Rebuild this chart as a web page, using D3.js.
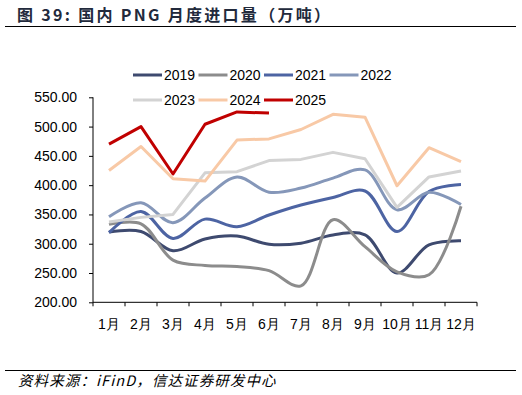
<!DOCTYPE html>
<html><head><meta charset="utf-8">
<script src="https://cdn.jsdelivr.net/npm/d3@7"></script>
<style>body{margin:0;background:#fff;}svg{display:block;}</style>
</head><body>
<svg id="c" width="522" height="395"></svg>
<script>
const months = ["1月","2月","3月","4月","5月","6月","7月","8月","9月","10月","11月","12月"];
const years = ["2019","2020","2021","2022","2023","2024","2025"];
const v2019 = [320,321,288,308,313,299,301,315,315,250,298,305];
const v2020 = [333,334,272,263,261,254,228,341,295,252,247,364];
const v2021 = [319,355,309,342,329,349,366,379,390,321,389,401];
const v2022 = [346,370,336,378,414,388,395,412,426,358,388,367];
const v2023 = [337,345,350,421,423,442,444,456,445,362,414,424];
const v2024 = [425,466,411,407,477,479,495,521,516,399,464,440];
const v2025 = [470,500,419,504,525,523];
const yTicks = [200,250,300,350,400,450,500,550];

const seriesData = [v2019,v2020,v2021,v2022,v2023,v2024,v2025];
const colors = ["#3e4a6f","#8c8c8c","#4d64a3","#8597b9","#d3d3d3","#f8c9a6","#c00000"];
const smooth = [true,true,true,true,false,false,false];

const svg = d3.select("#c");
const font = "'Liberation Sans', Arial, sans-serif";

// Title
svg.append("text").attr("x",17).attr("y",21)
  .attr("font-family","'Noto Sans CJK SC', sans-serif").attr("font-weight","bold")
  .attr("font-size",16).attr("fill","#222a3c").attr("letter-spacing",2.3)
  .text("图 39:  国内 PNG 月度进口量（万吨）");
svg.append("line").attr("x1",5).attr("x2",516).attr("y1",26.5).attr("y2",26.5)
  .attr("stroke","#000").attr("stroke-width",1.2);

// Scales
const x = d3.scaleBand().domain(months).range([93,477]);
const y = d3.scaleLinear().domain([200,550]).range([302.3,97.3]);

// Y axis
const yAxis = d3.axisLeft(y).tickValues(yTicks).tickFormat(d3.format(".2f")).tickSize(4).tickPadding(12);
const gy = svg.append("g").attr("transform","translate(93,0)").call(yAxis);
gy.selectAll("text").attr("font-family",font).attr("font-size",14).attr("fill","#000");
gy.selectAll("line,path").attr("stroke","#000");
gy.select(".domain").attr("d","M0,"+y(200)+"V"+y(550));

// X axis
const xAxis = d3.axisBottom(x).tickSize(0).tickPadding(17);
const gx = svg.append("g").attr("transform","translate(0,"+y(200)+")").call(xAxis);
gx.selectAll("text").attr("font-family",font).attr("font-size",14).attr("fill","#000");
gx.select(".domain").attr("stroke","#000").attr("d","M"+x.range()[0]+",0H"+x.range()[1]);
const bounds = months.map(m=>x(m)).concat([x.range()[1]]);
gx.selectAll(".btick").data(bounds).enter().append("line")
  .attr("x1",d=>d).attr("x2",d=>d).attr("y1",0).attr("y2",4).attr("stroke","#000");

// Lines
const cx = i => x(months[i]) + x.bandwidth()/2;
seriesData.forEach((vals,k)=>{
  const line = d3.line().x((d,i)=>cx(i)).y(d=>y(d))
    .curve(smooth[k] ? d3.curveCatmullRom.alpha(0.5) : d3.curveLinear);
  svg.append("path").attr("d",line(vals)).attr("fill","none")
    .attr("stroke",colors[k]).attr("stroke-width",3).attr("stroke-linejoin","round");
});

// Legend
years.forEach((yr,k)=>{
  const row = k<4?0:1, col = k<4?k:k-4;
  const lx = 133 + col*65.5, ly = row===0?75:100;
  svg.append("line").attr("x1",lx).attr("x2",lx+29).attr("y1",ly).attr("y2",ly)
    .attr("stroke",colors[k]).attr("stroke-width",3);
  svg.append("text").attr("x",lx+31).attr("y",ly+5).attr("font-family",font)
    .attr("font-size",14).attr("fill","#000").text(yr);
});

// Source
svg.append("line").attr("x1",5).attr("x2",516).attr("y1",370.5).attr("y2",370.5)
  .attr("stroke","#000").attr("stroke-width",1);
svg.append("text").attr("x",18).attr("y",386)
  .attr("font-family","'Noto Sans CJK SC', sans-serif").attr("font-style","italic")
  .attr("font-size",14.5).attr("fill","#000").attr("letter-spacing",1.1)
  .text("资料来源：iFinD，信达证券研发中心");
</script>
</body></html>
